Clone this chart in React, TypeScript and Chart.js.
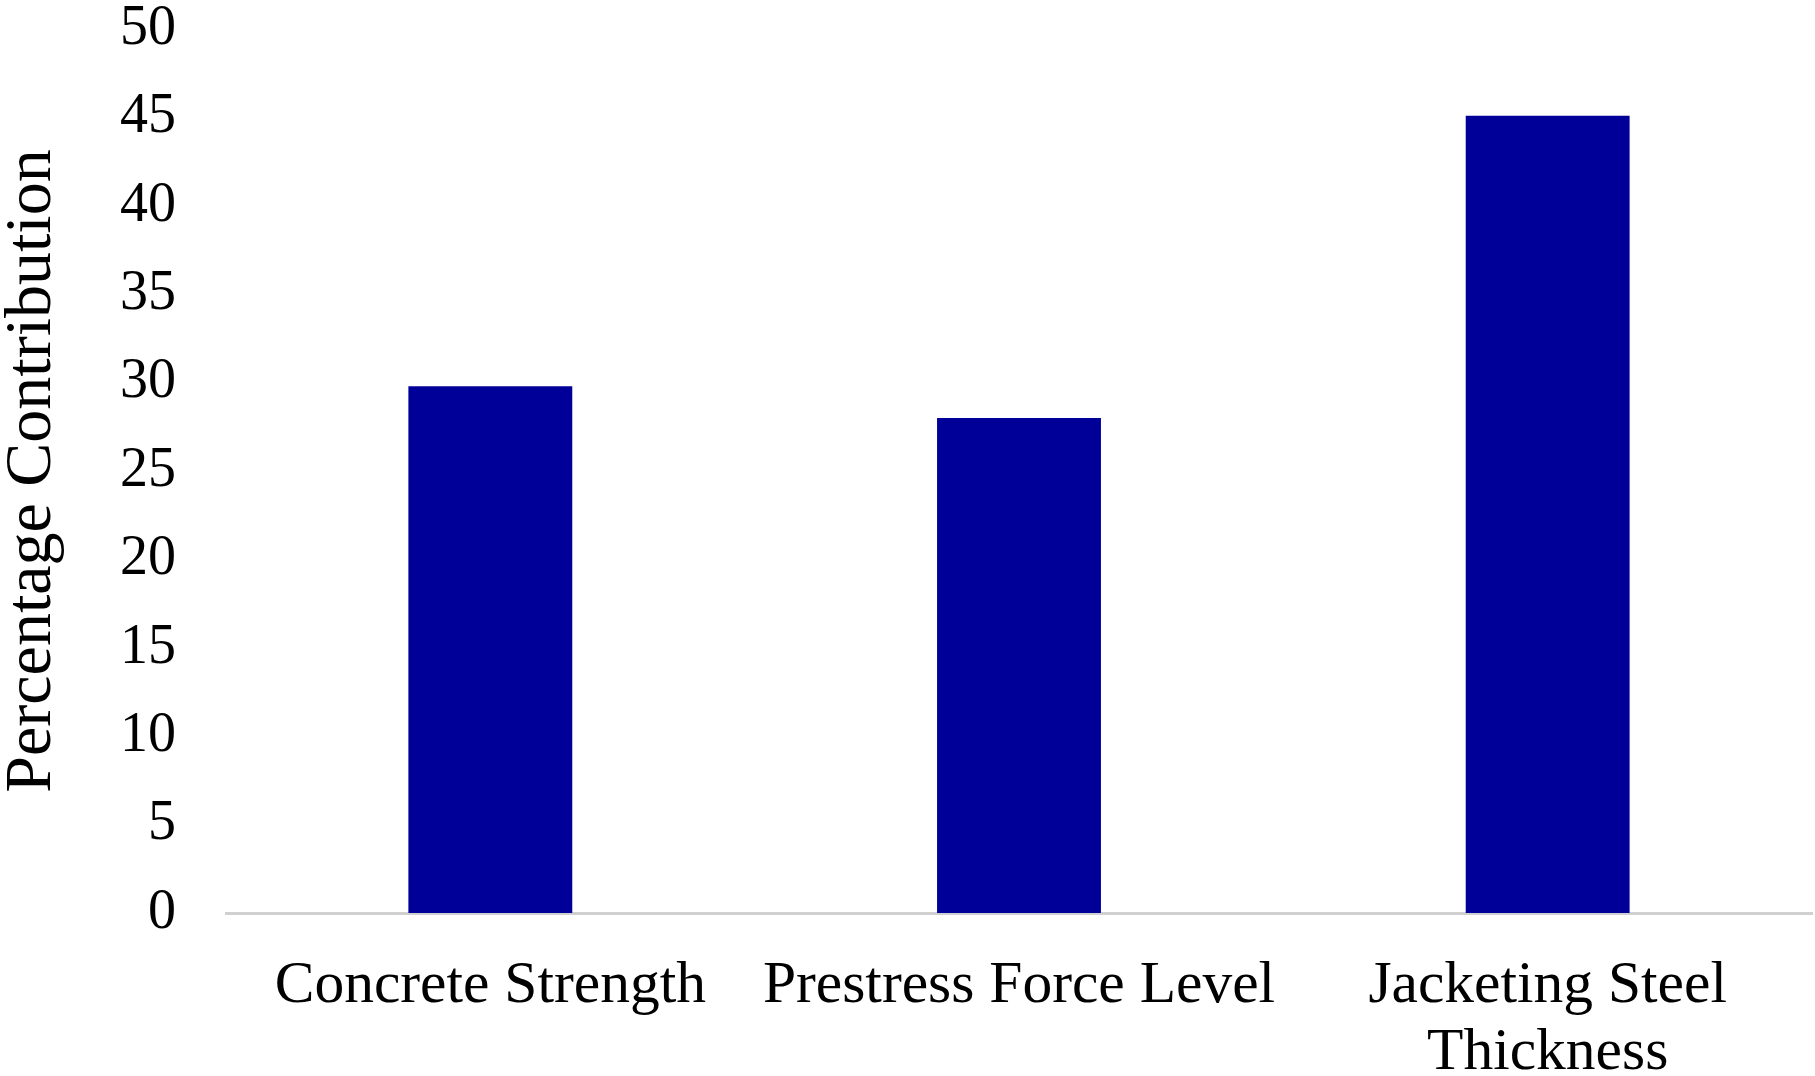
import React, { useEffect, useRef } from "react";
import { Chart, registerables } from "chart.js";

Chart.register(...registerables);

const categories: (string | string[])[] = [
  "Concrete Strength",
  "Prestress Force Level",
  ["Jacketing Steel", "Thickness"],
];
const contribution: number[] = [29.8, 28.0, 45.1];
const yTicks: number[] = [0, 5, 10, 15, 20, 25, 30, 35, 40, 45, 50];
const yTitle = "Percentage Contribution";

const FONT = "'Liberation Serif', 'Times New Roman', serif";

export default function App() {
  const ref = useRef<HTMLCanvasElement | null>(null);

  useEffect(() => {
    if (!ref.current) return;
    const chart = new Chart(ref.current, {
      type: "bar",
      data: {
        labels: categories,
        datasets: [
          {
            data: contribution,
            backgroundColor: "#000099",
            borderWidth: 0,
            categoryPercentage: 1,
            barPercentage: 0.31,
          },
        ],
      },
      options: {
        animation: false,
        responsive: false,
        devicePixelRatio: 1,
        layout: { padding: { left: 0, right: 3, top: 29, bottom: 0 } },
        plugins: { legend: { display: false }, tooltip: { enabled: false } },
        scales: {
          x: {
            grid: { display: false, drawTicks: false },
            border: { display: true, color: "#d0d0d0", width: 3 },
            ticks: {
              color: "#000",
              padding: 40,
              maxRotation: 0,
              autoSkip: false,
              font: { family: FONT, size: 59.5, lineHeight: 1.12 },
            },
            afterFit: (s: any) => {
              s.height = 163;
            },
          },
          y: {
            min: 0,
            max: 50,
            grid: { display: false, drawTicks: false },
            border: { display: false },
            afterBuildTicks: (s: any) => {
              s.ticks = yTicks.map((v) => ({ value: v }));
            },
            ticks: {
              color: "#000",
              padding: 50,
              font: { family: FONT, size: 56, lineHeight: 1 },
            },
            title: {
              display: true,
              text: yTitle,
              color: "#000",
              padding: 0,
              font: { family: FONT, size: 66, lineHeight: 1 },
            },
            afterFit: (s: any) => {
              s.width = 226;
              s.paddingTop = 0;
              s.paddingBottom = 0;
            },
          },
        },
      },
    });
    return () => chart.destroy();
  }, []);

  return (
    <div style={{ position: "fixed", left: 0, top: 0, width: 1815, height: 1076, background: "#fff" }}>
      <canvas ref={ref} width={1815} height={1076} style={{ width: 1815, height: 1076 }} />
    </div>
  );
}
